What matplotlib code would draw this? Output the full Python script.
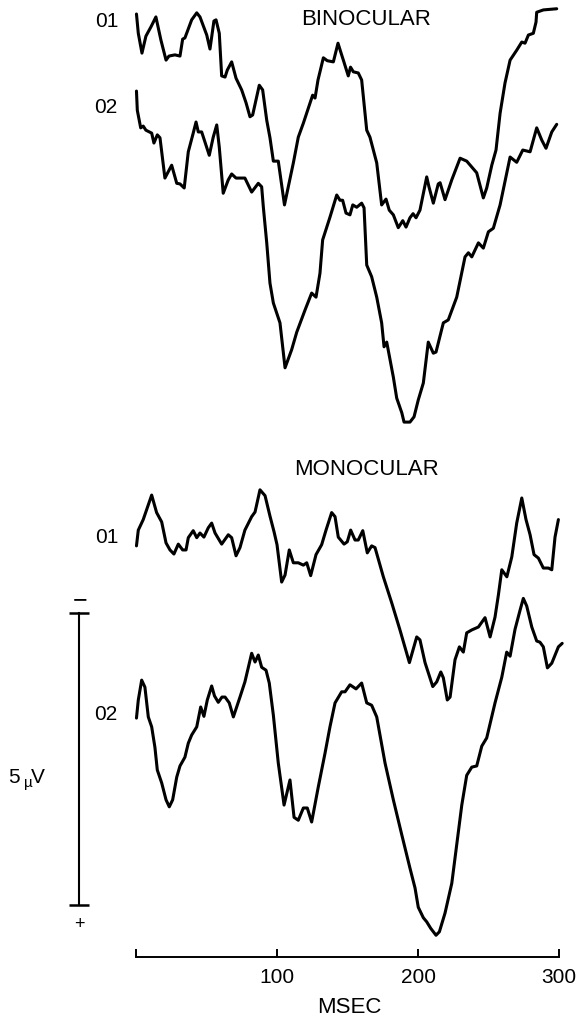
import numpy as np
import matplotlib
matplotlib.use("Agg")
import matplotlib.pyplot as plt

plt.rcParams['font.family'] = ['Liberation Sans', 'DejaVu Sans']

# --- Evoked potentials (time in ms, amplitude in uV, negative up) ---
bin_o1_t = [0, 1.3, 3.9, 6.7, 7.8, 10.3, 13.8, 17.4, 21.0, 23.1, 27.3, 30.9, 32.8, 34.4, 39.2,
            42.8, 45.1, 49.9, 52.2, 55.0, 56.5, 58.8, 60.5, 62.9, 64.5, 67.6, 70.7, 74.7, 77.8, 80.6,
            82.5, 87.2, 89.6, 92.5, 94.8, 97.2, 100.7, 105.1, 107.8, 111.4, 114.9, 118.5, 125.1, 126.8,
            128.9, 132.7, 135.5, 139.8, 143.1, 145.7, 146.9, 150.4, 152.0, 154.0, 157.5, 159.9, 163.5,
            165.8, 170.6, 174.1, 177.2, 179.5, 182.4, 185.9, 189.1, 191.4, 194.2, 196.4, 198.5, 201.3,
            206.1, 207.7, 210.8, 214.3, 215.6, 219.1, 223.9, 229.8, 234.5, 241.6, 246.3, 248.7, 252.3,
            255.3, 258.2, 261.7, 265.3, 270.0, 273.6, 275.9, 278.3, 281.8, 283.7, 284.2, 288.9, 298.4]
bin_o1_v = [0, 0.33, 0.67, 0.38, 0.33, 0.22, 0.05, 0.45, 0.79, 0.72, 0.70, 0.72, 0.43, 0.41, 0.10,
            -0.02, 0.05, 0.36, 0.60, 0.12, 0.10, 0.33, 1.06, 1.08, 0.96, 0.82, 1.10, 1.30, 1.52, 1.76,
            1.73, 1.22, 1.30, 1.82, 2.12, 2.52, 2.52, 3.27, 2.96, 2.55, 2.11, 1.87, 1.39, 1.44,
            1.13, 0.75, 0.80, 0.82, 0.50, 0.70, 0.79, 1.06, 0.91, 0.99, 1.01, 1.13, 1.99,
            2.11, 2.55, 3.27, 3.17, 3.36, 3.44, 3.66, 3.54, 3.65, 3.49, 3.42, 3.49, 3.36,
            2.79, 2.96, 3.24, 2.91, 2.89, 3.18, 2.84, 2.47, 2.52, 2.72, 3.15, 2.98, 2.59,
            2.33, 1.70, 1.18, 0.79, 0.62, 0.48, 0.50, 0.36, 0.33, 0.14, -0.03, -0.07, -0.09]

bin_o2_t = [0, 0.6, 3.0, 4.8, 6.7, 10.8, 12.4, 14.8, 16.7, 20.2, 25.0, 28.6, 30.9, 33.9, 36.8,
            40.3, 42.3, 43.9, 46.3, 51.7, 54.5, 57.0, 58.8, 61.6, 65.2, 67.6, 70.7, 77.0, 81.8, 86.5,
            88.9, 90.1, 92.5, 94.8, 97.2, 101.9, 105.5, 110.2, 113.8, 119.7, 124.4, 127.5, 130.3, 132.2,
            137.4, 142.2, 144.5, 146.4, 148.8, 151.6, 153.6, 156.4, 159.9, 161.6, 163.5, 167.0, 170.6,
            174.1, 175.8, 177.7, 182.4, 184.8, 188.4, 190.0, 194.2, 197.1, 200.1, 203.7, 207.2, 210.8,
            212.7, 217.9, 221.4, 227.4, 233.3, 235.7, 238.1, 242.8, 246.3, 249.9, 253.4, 258.2, 265.3,
            270.0, 274.3, 279.5, 284.2, 287.8, 290.8, 294.9, 298.4]
bin_o2_v = [0, 0.33, 0.63, 0.60, 0.67, 0.72, 0.89, 0.75, 0.80, 1.49, 1.27, 1.58, 1.59, 1.66, 1.04,
            0.72, 0.53, 0.70, 0.70, 1.10, 0.79, 0.58, 0.96, 1.75, 1.52, 1.42, 1.49, 1.49, 1.73, 1.58,
            1.64, 1.99, 2.60, 3.29, 3.63, 3.97, 4.74, 4.43, 4.13, 3.75, 3.46, 3.53, 3.12, 2.55,
            2.16, 1.78, 1.87, 1.87, 2.09, 2.12, 1.95, 1.99, 1.92, 2.00, 2.98, 3.18, 3.53,
            3.97, 4.38, 4.30, 4.90, 5.26, 5.51, 5.67, 5.67, 5.58, 5.29, 5.00, 4.30, 4.49,
            4.47, 3.97, 3.92, 3.53, 2.84, 2.77, 2.84, 2.60, 2.69, 2.41, 2.35, 1.95, 1.13,
            1.22, 1.01, 1.04, 0.63, 0.84, 0.98, 0.70, 0.57]

mon_o1_t = [0, 1.3, 4.8, 10.8, 14.3, 17.9, 21.0, 23.8, 26.6, 29.7, 32.8, 35.2, 36.8, 40.3, 42.8,
            45.1, 47.9, 51.0, 53.4, 55.8, 60.5, 65.2, 67.6, 70.7, 73.5, 77.0, 81.8, 84.2, 87.7, 91.3,
            94.8, 97.7, 99.8, 103.1, 105.5, 108.5, 111.4, 114.9, 118.5, 120.9, 123.7, 127.5, 131.5,
            134.6, 138.6, 141.0, 143.3, 147.4, 149.7, 152.1, 155.2, 157.5, 160.7, 163.9, 167.0, 169.4,
            175.3, 181.3, 187.1, 193.8, 199.0, 201.3, 204.9, 210.4, 213.2, 216.1, 217.9, 220.7, 222.7,
            226.2, 229.3, 232.1, 234.5, 238.1, 242.8, 247.5, 251.1, 254.6, 257.0, 259.4, 263.0, 266.5,
            270.0, 273.6, 276.6, 279.5, 282.3, 285.4, 288.9, 292.5, 294.9, 297.2, 299.6]
mon_o1_v = [0, -0.27, -0.45, -0.87, -0.57, -0.41, -0.05, 0.07, 0.14, -0.03, 0.07, 0.07, -0.14, -0.26, -0.14,
            -0.22, -0.15, -0.31, -0.39, -0.22, -0.03, -0.19, -0.14, 0.17, 0.03, -0.27, -0.50, -0.58, -0.96, -0.86,
            -0.51, -0.24, -0.02, 0.62, 0.50, 0.07, 0.29, 0.29, 0.33, 0.29, 0.51, 0.15, -0.02,
            -0.27, -0.57, -0.50, -0.15, -0.03, -0.07, -0.27, -0.10, -0.10, -0.26, 0.12, 0.00, 0.03,
            0.53, 0.98, 1.44, 2.00, 1.56, 1.61, 2.00, 2.41, 2.33, 2.16, 2.26, 2.64, 2.59,
            1.95, 1.73, 1.82, 1.49, 1.44, 1.39, 1.23, 1.56, 1.22, 0.84, 0.41, 0.53, 0.19,
            -0.39, -0.82, -0.45, -0.19, 0.15, 0.21, 0.38, 0.38, 0.41, -0.15, -0.45]

mon_o2_t = [0, 1.3, 3.7, 6.0, 8.4, 10.8, 13.1, 14.8, 17.9, 21.0, 23.3, 25.7, 28.6, 30.9, 34.4,
            36.8, 39.2, 42.8, 45.6, 47.9, 50.3, 53.4, 55.4, 58.1, 60.7, 62.9, 65.9, 68.8, 73.5, 77.0,
            81.8, 84.2, 86.5, 88.9, 92.0, 94.3, 97.2, 100.7, 104.8, 109.0, 111.9, 114.9, 118.5, 121.3,
            124.4, 129.1, 133.9, 137.4, 141.0, 145.7, 148.1, 151.6, 155.9, 159.9, 163.5, 167.0, 170.6,
            176.5, 182.4, 188.4, 194.2, 197.8, 200.1, 203.7, 206.1, 208.9, 212.7, 215.1, 219.1, 223.9,
            227.4, 231.0, 234.5, 238.1, 241.6, 245.2, 248.7, 254.6, 259.4, 262.9, 265.3, 268.8, 272.4,
            274.7, 277.1, 280.7, 284.2, 286.5, 288.9, 291.8, 294.9, 299.6, 302.3]
mon_o2_v = [0, -0.31, -0.65, -0.53, -0.02, 0.15, 0.50, 0.89, 1.11, 1.40, 1.52, 1.40, 1.01, 0.82, 0.67,
            0.43, 0.29, 0.15, -0.19, -0.03, -0.31, -0.55, -0.38, -0.27, -0.36, -0.36, -0.26, -0.02, -0.36, -0.62,
            -1.11, -0.96, -1.08, -0.87, -0.82, -0.60, -0.05, 0.77, 1.49, 1.06, 1.70, 1.75, 1.54, 1.54,
            1.78, 1.18, 0.60, 0.15, -0.26, -0.45, -0.45, -0.57, -0.50, -0.60, -0.26, -0.22, -0.02,
            0.77, 1.40, 2.00, 2.57, 2.91, 3.24, 3.42, 3.49, 3.60, 3.72, 3.66, 3.34, 2.83,
            2.17, 1.49, 0.98, 0.84, 0.82, 0.48, 0.34, -0.26, -0.70, -1.13, -1.06, -1.52, -1.85,
            -2.05, -1.92, -1.56, -1.32, -1.30, -1.22, -0.86, -0.94, -1.22, -1.28]

x_ticks = [0, 100, 200, 300]
x_ticklabels = ['', '100', '200', '300']
scale_uv = 5

# vertical placement of each trace (uV below the top, axis line at 0)
traces = [
    (bin_o1_t, bin_o1_v, -16.15),
    (bin_o2_t, bin_o2_v, -14.83),
    (mon_o1_t, mon_o1_v, -7.04),
    (mon_o2_t, mon_o2_v, -4.09),
]

W, H = 576, 1024
fig = plt.figure(figsize=(W / 100, H / 100), dpi=100)
ax = fig.add_axes([0, 0, 1, 1])
ax.set_xlim(-96.9, 312.1)
ax.set_ylim(1.15, -16.39)   # inverted: negative up

for t, v, off in traces:
    ax.plot(t, off + np.array(v), color='black', lw=2.2,
            solid_joinstyle='round', solid_capstyle='round')

# time axis
for side in ['top', 'right', 'left']:
    ax.spines[side].set_visible(False)
ax.spines['bottom'].set_position(('data', 0))
ax.spines['bottom'].set_bounds(0, 300)
ax.spines['bottom'].set_linewidth(1.4)
ax.set_xticks(x_ticks)
ax.set_xticklabels(x_ticklabels)
ax.tick_params(axis='x', direction='in', length=6, width=1.4, pad=8, labelsize=15)
ax.set_yticks([])
ax.patch.set_visible(False)

# calibration bar
bar_x = -40.8
bar_base = -0.89
ax.plot([bar_x, bar_x], [bar_base, bar_base - scale_uv], color='black', lw=1.5)
ax.plot([bar_x, bar_x], [bar_base, bar_base - scale_uv], ls='none', marker='_',
        markersize=15, markeredgewidth=1.8, color='black')


def ftext(x, y, s, **kw):
    fig.text(x / W, 1 - y / H, s, **kw)


ftext(366, 25, 'BINOCULAR', ha='center', va='baseline', fontsize=16)
ftext(366, 475, 'MONOCULAR', ha='center', va='baseline', fontsize=16)
ftext(119, 27, '01', ha='right', va='baseline', fontsize=15)
ftext(117, 113, '02', ha='right', va='baseline', fontsize=15)
ftext(119, 543, '01', ha='right', va='baseline', fontsize=15)
ftext(117, 720, '02', ha='right', va='baseline', fontsize=15)
ftext(349, 1013, 'MSEC', ha='center', va='baseline', fontsize=16)

ftext(8, 783, '5', ha='left', va='baseline', fontsize=15)
ftext(24, 787, 'µ', ha='left', va='baseline', fontsize=11)
ftext(31, 783, 'V', ha='left', va='baseline', fontsize=15)
ftext(80, 607, '−', ha='center', va='baseline', fontsize=18)
ftext(79, 929, '+', ha='center', va='baseline', fontsize=13)

fig.savefig('out.png', dpi=100)
